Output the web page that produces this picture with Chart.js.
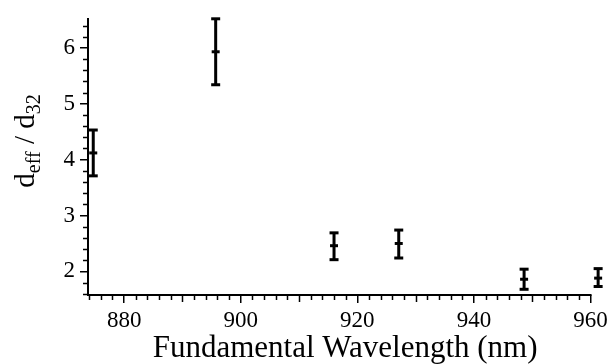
<!DOCTYPE html>
<html>
<head>
<meta charset="utf-8">
<script src="https://cdn.jsdelivr.net/npm/chart.js@4.4.0/dist/chart.umd.min.js"></script>
<style>
  html, body { margin: 0; padding: 0; background: #fff; }
  #wrap { width: 612px; height: 364px; }
</style>
</head>
<body>
<div id="wrap"><canvas id="myChart" width="612" height="364"></canvas></div>
<script>
// values
const wavelength = [874.7, 895.7, 916.0, 927.1, 948.6, 961.3];
const deff = [4.12, 5.93, 2.46, 2.50, 1.86, 1.88];
const deffLow = [3.71, 5.34, 2.21, 2.24, 1.68, 1.73];
const deffHigh = [4.53, 6.52, 2.69, 2.74, 2.04, 2.05];

const xTicks = [880, 900, 920, 940, 960];
const yTicks = [2, 3, 4, 5, 6];
const xRange = [873.8, 962];
const yRange = [1.578, 6.52];
const xAxisEnd = 960;
const xMinorStep = 2;
const yMinorStep = 0.2;

const xTitle = 'Fundamental Wavelength (nm)';
// y title pieces: [text, subscript?]
const yTitle = [['d', false], ['eff', true], [' / ', false], ['d', false], ['32', true]];

const serif = "'Liberation Serif', 'Times New Roman', serif";

// error bar verticals: one segment per point, null breaks the line
let barLines = [];
for (let i = 0; i < wavelength.length; i++) {
    barLines.push({x: wavelength[i], y: deffLow[i]});
    barLines.push({x: wavelength[i], y: deffHigh[i]});
    barLines.push({x: wavelength[i], y: null});
}
let caps = [];
for (let i = 0; i < wavelength.length; i++) {
    caps.push({x: wavelength[i], y: deffLow[i]});
    caps.push({x: wavelength[i], y: deffHigh[i]});
}
const centers = wavelength.map((w, i) => ({x: w, y: deff[i]}));

const axisDecor = {
    id: 'axisDecor',
    afterDraw(chart) {
        const ctx = chart.ctx;
        const area = chart.chartArea;
        const x = chart.scales.x, y = chart.scales.y;
        ctx.save();
        ctx.strokeStyle = '#000';

        // x axis line stops at 960
        ctx.lineWidth = 2;
        ctx.beginPath();
        ctx.moveTo(area.left - 1, area.bottom);
        ctx.lineTo(x.getPixelForValue(xAxisEnd) + 1, area.bottom);
        ctx.stroke();

        // minor ticks
        ctx.lineWidth = 1.5;
        ctx.beginPath();
        for (let v = Math.ceil(xRange[0] / xMinorStep) * xMinorStep; v <= xAxisEnd; v += xMinorStep) {
            if (xTicks.includes(v)) continue;
            const px = Math.round(x.getPixelForValue(v)) + 0.5;
            const len = v % 10 === 0 ? 7 : 5;
            ctx.moveTo(px, area.bottom);
            ctx.lineTo(px, area.bottom + len);
        }
        for (let k = Math.ceil(yRange[0] / yMinorStep); k * yMinorStep <= yRange[1]; k++) {
            const v = Math.round(k * yMinorStep * 10) / 10;
            if (yTicks.includes(v)) continue;
            const py = Math.round(y.getPixelForValue(v)) + 0.5;
            ctx.moveTo(area.left, py);
            ctx.lineTo(area.left - 5, py);
        }
        ctx.stroke();

        // y title with subscripts, rotated
        const mainFont = '29px ' + serif;
        const subFont = '20px ' + serif;
        let total = 0;
        yTitle.forEach(p => {
            ctx.font = p[1] ? subFont : mainFont;
            total += ctx.measureText(p[0]).width;
        });
        ctx.translate(34, 141);
        ctx.rotate(-Math.PI / 2);
        ctx.fillStyle = '#000';
        ctx.textBaseline = 'alphabetic';
        ctx.textAlign = 'left';
        let pos = -total / 2;
        yTitle.forEach(p => {
            ctx.font = p[1] ? subFont : mainFont;
            ctx.fillText(p[0], pos, p[1] ? 6 : 0);
            pos += ctx.measureText(p[0]).width;
        });
        ctx.restore();
    }
};

var ctx = document.getElementById('myChart').getContext('2d');
var myChart = new Chart(ctx, {
    type: 'scatter',
    data: {
        datasets: [{
            label: 'bars',
            data: barLines,
            showLine: true,
            spanGaps: false,
            borderColor: '#000',
            borderWidth: 3,
            pointRadius: 0,
            clip: false
        },
        {
            label: 'caps',
            data: caps,
            pointStyle: 'line',
            pointRadius: 4.5,
            pointBorderWidth: 3,
            pointBorderColor: '#000',
            clip: false
        },
        {
            label: 'deff',
            data: centers,
            pointStyle: 'line',
            pointRadius: 4,
            pointBorderWidth: 3,
            pointBorderColor: '#000',
            clip: false
        }]
    },
    options: {
        responsive: false,
        animation: false,
        devicePixelRatio: 1,
        layout: { padding: { top: 14, left: 0, right: 8.6, bottom: 0 } },
        plugins: {
            legend: { display: false },
            tooltip: { enabled: false }
        },
        scales: {
            x: {
                type: 'linear',
                min: xRange[0],
                max: xRange[1],
                afterFit: s => { s.height = 69; },
                border: { display: false },
                grid: { drawOnChartArea: false, drawTicks: true, tickLength: 8, color: '#000', lineWidth: 1.5 },
                ticks: {
                    stepSize: 20,
                    includeBounds: false,
                    autoSkip: false,
                    maxRotation: 0,
                    padding: 4,
                    color: '#000',
                    font: { family: serif, size: 23 }
                },
                title: {
                    display: true,
                    text: xTitle,
                    color: '#000',
                    padding: 0,
                    font: { family: serif, size: 31, lineHeight: 1 }
                }
            },
            y: {
                min: yRange[0],
                max: yRange[1],
                afterFit: s => { s.width = 88; },
                border: { display: true, color: '#000', width: 2 },
                grid: { drawOnChartArea: false, drawTicks: true, tickLength: 8, color: '#000', lineWidth: 1.5 },
                ticks: {
                    stepSize: 1,
                    includeBounds: false,
                    padding: 5,
                    color: '#000',
                    font: { family: serif, size: 23 }
                }
            }
        }
    },
    plugins: [axisDecor]
});
</script>
</body>
</html>
